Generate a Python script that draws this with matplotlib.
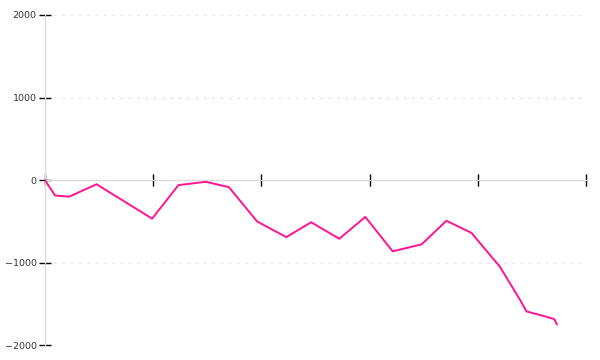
import matplotlib
matplotlib.use("Agg")
import matplotlib.pyplot as plt

# x positions (days) and cumulative values
days = [0, 2.8, 6.7, 14.3, 29.7, 37.0, 44.6, 51.0, 58.8, 66.9, 73.8, 81.6,
        88.8, 96.4, 104.4, 111.3, 118.3, 119.7, 126.1, 131.6, 133.5, 138.1,
        141.2, 141.9]
values = [0, -186, -200, -50, -466, -60, -20, -85, -500, -690, -510, -710,
          -445, -862, -778, -492, -640, -715, -1047, -1441, -1590, -1643,
          -1683, -1745]
x_ticks = [0, 30, 60, 90, 120, 150]
y_ticks = [-2000, -1000, 0, 1000, 2000]
y_labels = ["\u22122000", "\u22121000", "0", "1000", "2000"]

fig = plt.figure(figsize=(6, 3.6), dpi=100)
ax = fig.add_axes([45/600, 1 - 345.3/360, (586 - 45)/600, (345.3 - 15)/360])

ax.set_xlim(0, 150)
ax.set_ylim(-2000, 2000)

# grid lines
for v in y_ticks:
    if v == 0:
        continue
    ax.axhline(v, color="#e6e6e6", lw=1, ls=(0, (2, 4)), zorder=0)
ax.axhline(0, color="#dddddd", lw=1, zorder=1)

ax.plot(days, values, color="#ff1493", lw=1.4, zorder=3)

for s in ["top", "right", "bottom"]:
    ax.spines[s].set_visible(False)
ax.spines["left"].set_color("#dddddd")
ax.spines["left"].set_linewidth(1)

ax.set_yticks(y_ticks)
ax.set_yticklabels(y_labels)
ax.tick_params(axis="y", direction="inout", length=8, width=1, color="black",
               labelsize=6.8, labelcolor="#333333", pad=2)

ax.set_xticks(x_ticks)
ax.set_xticklabels([])
ax.tick_params(axis="x", direction="inout", length=9, width=1, color="black")
ax.xaxis.set_ticks_position("bottom")
ax.spines["bottom"].set_position(("data", 0))
ax.spines["bottom"].set_visible(True)
ax.spines["bottom"].set_color("#dddddd")

fig.savefig("out.png", dpi=100)
